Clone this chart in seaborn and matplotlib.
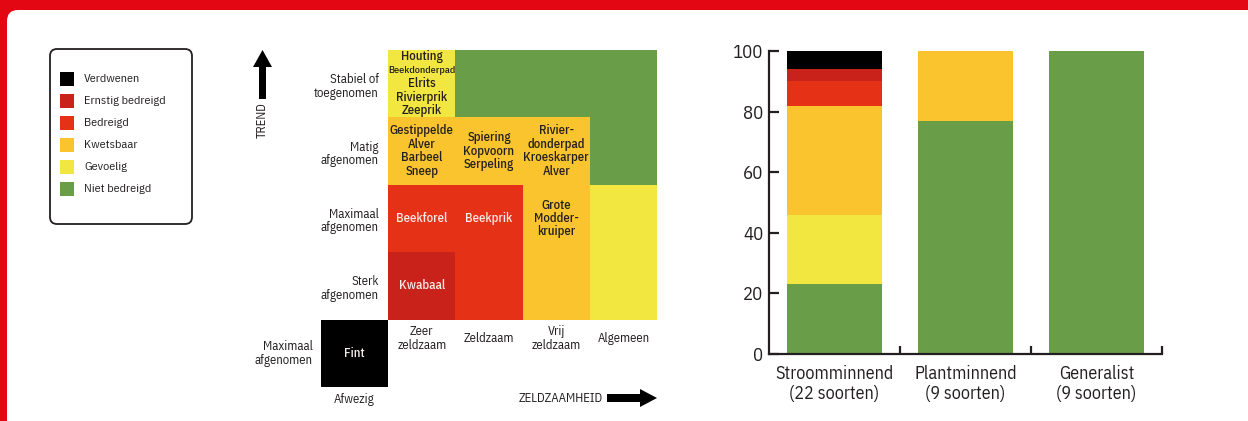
import numpy as np
import pandas as pd
import matplotlib
matplotlib.use("Agg")
import matplotlib.pyplot as plt
import seaborn as sns
from matplotlib.colors import ListedColormap
from matplotlib.patches import FancyBboxPatch, Rectangle, FancyArrow
from matplotlib.transforms import IdentityTransform
from matplotlib import font_manager

# ---------------- data ----------------
status_labels = ["Verdwenen", "Ernstig bedreigd", "Bedreigd", "Kwetsbaar", "Gevoelig", "Niet bedreigd"]
status_colors = ["#000000", "#C9221B", "#E53116", "#F9C42D", "#F2E640", "#6A9D48"]

trend_labels = ["Stabiel of\ntoegenomen", "Matig\nafgenomen", "Maximaal\nafgenomen",
                "Sterk\nafgenomen", "Maximaal\nafgenomen"]
rarity_labels = ["Afwezig", "Zeer\nzeldzaam", "Zeldzaam", "Vrij\nzeldzaam", "Algemeen"]

nan = np.nan
# status code per cell (index into status_labels); rows = trend, cols = rarity
matrix_status = [
    [nan, 4, 5, 5, 5],
    [nan, 3, 3, 3, 5],
    [nan, 2, 2, 3, 4],
    [nan, 1, 2, 3, 4],
    [0, nan, nan, nan, nan],
]
cell_species = [
    (0, 1, ["Houting", "Beekdonderpad", "Elrits", "Rivierprik", "Zeeprik"]),
    (1, 1, ["Gestippelde", "Alver", "Barbeel", "Sneep"]),
    (1, 2, ["Spiering", "Kopvoorn", "Serpeling"]),
    (1, 3, ["Rivier-", "donderpad", "Kroeskarper", "Alver"]),
    (2, 1, ["Beekforel"]),
    (2, 2, ["Beekprik"]),
    (2, 3, ["Grote", "Modder-", "kruiper"]),
    (3, 1, ["Kwabaal"]),
    (4, 0, ["Fint"]),
]

groups = ["Stroomminnend\n(22 soorten)", "Plantminnend\n(9 soorten)", "Generalist\n(9 soorten)"]
pct_verdwenen = [6, 0, 0]
pct_ernstig = [4, 0, 0]
pct_bedreigd = [8, 0, 0]
pct_kwetsbaar = [36, 23, 0]
pct_gevoelig = [23, 0, 0]
pct_niet = [23, 77, 100]
y_ticks = [0, 20, 40, 60, 80, 100]

# ---------------- style ----------------
sns.set_style("white")
names = {f.name for f in font_manager.fontManager.ttflist}
FONT = "IBM Plex Sans Condensed"
for cand in ["IBM Plex Sans Condensed", "Roboto Condensed", "Liberation Sans Narrow", "Liberation Sans"]:
    if cand in names:
        FONT = cand
        break
plt.rcParams["font.family"] = [FONT, "DejaVu Sans"]
TXT = "#231f20"
WHITE_TXT = "#f6ece8"
RED = "#E30613"

W, H = 1248, 421
fig = plt.figure(figsize=(W / 100, H / 100), dpi=100, facecolor=RED)

# white rounded panel (red frame top/left)
panel = FancyBboxPatch((7, -40), 1400, 411 + 40, boxstyle="round,pad=0,rounding_size=11",
                       fc="white", ec="none", transform=IdentityTransform(), zorder=-10)
fig.add_artist(panel)


def px(x, y):
    """convert top-left pixel coords to display coords"""
    return x, H - y


# ---------------- legend ----------------
frame = FancyBboxPatch(px(50, 224), 142, 175, boxstyle="round,pad=0,rounding_size=7",
                       fc="white", ec=TXT, lw=1.3, transform=IdentityTransform(), zorder=1)
fig.add_artist(frame)
for i, (lab, col) in enumerate(zip(status_labels, status_colors)):
    cy = 79 + 22 * i
    r = Rectangle(px(60, cy + 7), 14, 14, fc=col, ec="none", transform=IdentityTransform(), zorder=2)
    fig.add_artist(r)
    fig.text(84 / W, 1 - cy / H, lab, fontsize=8.8, color=TXT, va="center", ha="left")

# ---------------- matrix (heatmap) ----------------
ax1 = fig.add_axes([321 / W, 1 - 387 / H, 336 / W, 337 / H])
mat = np.array(matrix_status, dtype=float)
sns.heatmap(mat, mask=np.isnan(mat), cmap=ListedColormap(status_colors), vmin=-0.5, vmax=5.5,
            cbar=False, xticklabels=False, yticklabels=False, linewidths=0, ax=ax1)
ax1.set_facecolor("none")
ax1.tick_params(length=0)

LS = 0.2  # line step in data units
for r, c, lines in cell_species:
    code = int(mat[r, c])
    color = WHITE_TXT if code <= 2 else TXT
    n = len(lines)
    for k, line in enumerate(lines):
        y = r + 0.5 + (k - (n - 1) / 2) * LS
        fs = 7.3 if len(line) > 12 else 9.2
        ax1.text(c + 0.5, y, line, ha="center", va="center", fontsize=fs, color=color,
                 fontweight="medium")

# row (trend) labels
for r, lab in enumerate(trend_labels[:4]):
    ax1.text(0.86, r + 0.54, lab, ha="right", va="center", fontsize=9.2, color=TXT,
             linespacing=1.05, clip_on=False)
ax1.text(-0.12, 4.5, trend_labels[4], ha="right", va="center", fontsize=9.2, color=TXT,
         linespacing=1.05, clip_on=False)
# column (rarity) labels
for c, lab in enumerate(rarity_labels[1:], start=1):
    ax1.text(c + 0.5, 4.28, lab, ha="center", va="center", fontsize=9.2, color=TXT,
             linespacing=1.05, clip_on=False)
ax1.text(0.5, 5.18, rarity_labels[0], ha="center", va="center", fontsize=9.2, color=TXT, clip_on=False)

# axis arrows
fig.add_artist(FancyArrow(262.5, H - 99, 0, 49, width=7, head_width=19, head_length=17,
                          length_includes_head=True, fc="black", ec="none",
                          transform=IdentityTransform()))
fig.text(262.5 / W, 1 - 120 / H, "TREND", rotation=90, fontsize=9, color=TXT,
         ha="center", va="center")
fig.add_artist(FancyArrow(607, H - 398, 50, 0, width=8, head_width=18, head_length=17,
                          length_includes_head=True, fc="black", ec="none",
                          transform=IdentityTransform()))
fig.text(603 / W, 1 - 398 / H, "ZELDZAAMHEID", fontsize=9.2, color=TXT, ha="right", va="center")

# ---------------- stacked bars ----------------
ax2 = fig.add_axes([769 / W, 1 - 354 / H, 393 / W, 303 / H])
ax2.set_facecolor("none")
values = {
    "Verdwenen": pct_verdwenen, "Ernstig bedreigd": pct_ernstig, "Bedreigd": pct_bedreigd,
    "Kwetsbaar": pct_kwetsbaar, "Gevoelig": pct_gevoelig, "Niet bedreigd": pct_niet,
}
rows = []
for st in status_labels:
    for gi, g in enumerate(groups):
        rows.append({"pos": gi, "status": st, "pct": values[st][gi]})
df = pd.DataFrame(rows)
palette = dict(zip(status_labels, status_colors))
# seaborn stacks the first hue level on top
sns.histplot(data=df, x="pos", hue="status", weights="pct", multiple="stack",
             hue_order=status_labels, palette=palette, discrete=True, shrink=0.72,
             linewidth=0, alpha=1, legend=False, ax=ax2)

ax2.set_xlim(-0.5, 2.5)
ax2.set_ylim(0, 100)
ax2.set_xlabel("")
ax2.set_ylabel("")
sns.despine(ax=ax2)
for s in ["left", "bottom"]:
    ax2.spines[s].set_linewidth(1.6)
    ax2.spines[s].set_color(TXT)
ax2.set_yticks(y_ticks)
ax2.set_yticklabels([str(v) for v in y_ticks])
ax2.tick_params(axis="y", direction="in", length=7, width=1.6, color=TXT, pad=4,
                labelsize=13.5, labelcolor=TXT, left=True)
ax2.set_xticks(range(len(groups)))
ax2.set_xticklabels(groups)
ax2.set_xticks([0.5, 1.5, 2.5], minor=True)
ax2.tick_params(axis="x", which="major", length=0, pad=8, labelsize=13, labelcolor=TXT)
ax2.tick_params(axis="x", which="minor", direction="in", length=6, width=1.6, color=TXT, bottom=True)
for t in ax2.get_xticklabels():
    t.set_linespacing(1.1)

fig.savefig("out.png", dpi=100, facecolor=RED)
